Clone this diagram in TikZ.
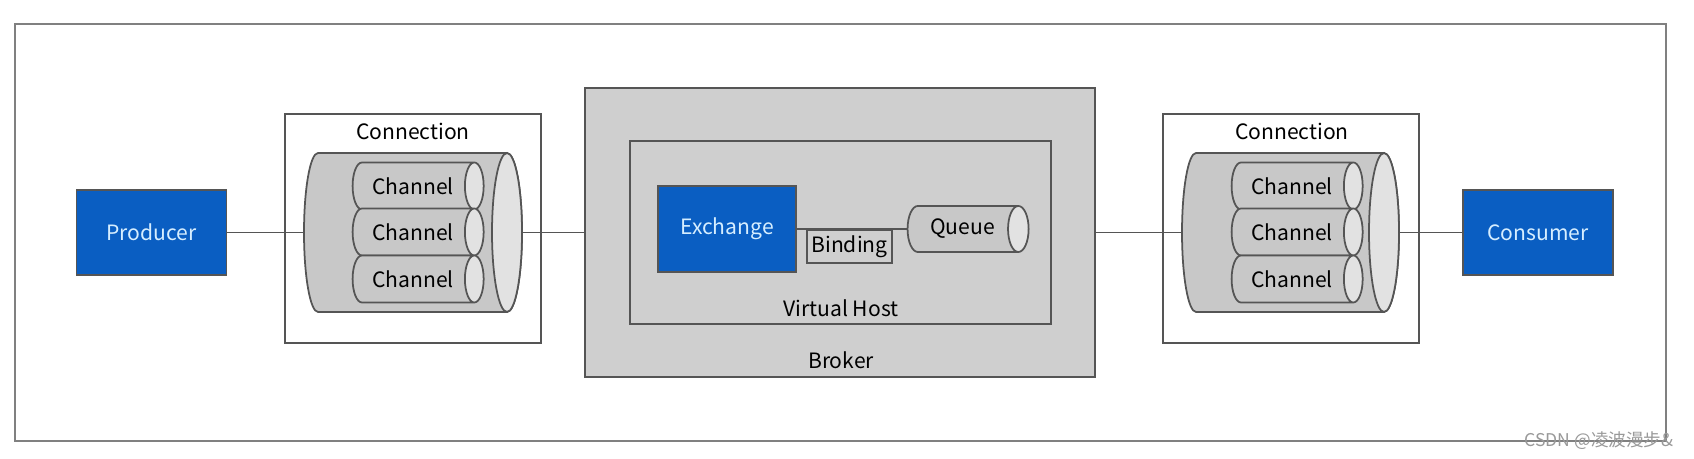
\documentclass[tikz,border=0pt]{standalone}
\usepackage{fontspec}
\setmainfont{Noto Sans CJK SC}
\usetikzlibrary{shapes.geometric}
\definecolor{boxblue}{RGB}{10,94,194}
\definecolor{textblue}{RGB}{214,238,255}
\definecolor{linegray}{RGB}{85,85,85}
\definecolor{brokergray}{RGB}{207,207,207}
\definecolor{bodygray}{RGB}{200,200,200}
\definecolor{endgray}{RGB}{226,226,226}
\tikzset{
	bluebox/.style={draw=linegray, fill=boxblue, text=textblue, line width=0.5pt,
		minimum width=1.5cm, minimum height=0.85cm, inner sep=0pt},
	cyl/.style={cylinder, shape border rotate=0, draw=linegray, line width=0.5pt,
		cylinder uses custom fill, cylinder body fill=bodygray,
		cylinder end fill=endgray, inner sep=0pt},
	chan/.style={cyl, aspect=1.1, minimum height=1.31cm, minimum width=0.47cm},
	frame/.style={draw=linegray, line width=0.5pt},
	wire/.style={draw=linegray, line width=0.5pt}
}
\begin{document}
\begin{tikzpicture}[x=0.01cm, y=-0.01cm, font=\fontsize{6}{7}\selectfont]
	\useasboundingbox (0,0) rectangle (1694,459);
	% Outer frame
	\draw[draw=gray, line width=0.6pt] (15,24) rectangle (1666,441);

	% Producer and consumer
	\node[bluebox] (prod) at (151.5,232.5) {Producer};
	\node[bluebox] (cons) at (1538,232.5) {Consumer};

	% Connection boxes
	\draw[frame] (285,114) rectangle (541,343);
	\node (connLlbl) at (413,131) {Connection};
	\draw[frame] (1163,114) rectangle (1419,343);
	\node (connRlbl) at (1292,131) {Connection};

	% Connection cylinders (body, then the visible end)
	\draw[frame, fill=bodygray] (318,153) -- (507,153)
		arc[start angle=-90, end angle=90, x radius=15, y radius=79.5]
		-- (318,312) arc[start angle=90, end angle=270, x radius=14, y radius=79.5] -- cycle;
	\draw[frame, fill=endgray] (507,232.5) ellipse [x radius=15, y radius=79.5];
	\node[minimum width=2.18cm, minimum height=1.59cm, inner sep=0pt] (cylL) at (413,232.5) {};

	\draw[frame, fill=bodygray] (1196,153) -- (1384,153)
		arc[start angle=-90, end angle=90, x radius=15, y radius=79.5]
		-- (1196,312) arc[start angle=90, end angle=270, x radius=14, y radius=79.5] -- cycle;
	\draw[frame, fill=endgray] (1384,232.5) ellipse [x radius=15, y radius=79.5];
	\node[minimum width=2.17cm, minimum height=1.59cm, inner sep=0pt] (cylR) at (1290.5,232.5) {};

	% Channels
	\node[chan] (chL1) at (413,186) {Channel};
	\node[chan] (chL2) at (413,232) {Channel};
	\node[chan] (chL3) at (413,279) {Channel};
	\node[chan] (chR1) at (1292,186) {Channel};
	\node[chan] (chR2) at (1292,232) {Channel};
	\node[chan] (chR3) at (1292,279) {Channel};

	% Broker
	\node[frame, fill=brokergray, minimum width=5.1cm, minimum height=2.89cm,
		inner sep=0pt] (broker) at (840,232.5) {};
	\node (brokerlbl) at (841,360) {Broker};
	\draw[frame] (630,141) rectangle (1051,324);
	\node (vhostlbl) at (841,308) {Virtual Host};

	% Exchange, binding and queue
	\node[bluebox, minimum width=1.38cm, minimum height=0.86cm] (exch) at (727,229) {Exchange};
	\node[cyl, aspect=1.05, minimum height=1.21cm, minimum width=0.46cm] (queue) at (962.5,229) {Queue};
	\draw[wire] (exch.east) -- (queue.west);
	\node[frame, anchor=north, minimum width=0.85cm, minimum height=0.33cm,
		inner sep=0pt] (bind) at (849.5,229) {Binding};

	% Wires
	\draw[wire] (prod.east) -- (cylL.west);
	\draw[wire] (cylL.east) -- (broker.west);
	\draw[wire] (broker.east) -- (cylR.west);
	\draw[wire] (cylR.east) -- (cons.west);

	% Watermark
	\node[text=gray!80, font=\fontsize{5}{6}\selectfont] (mark) at (1599,441) {CSDN @凌波漫步\&};
\end{tikzpicture}
\end{document}
